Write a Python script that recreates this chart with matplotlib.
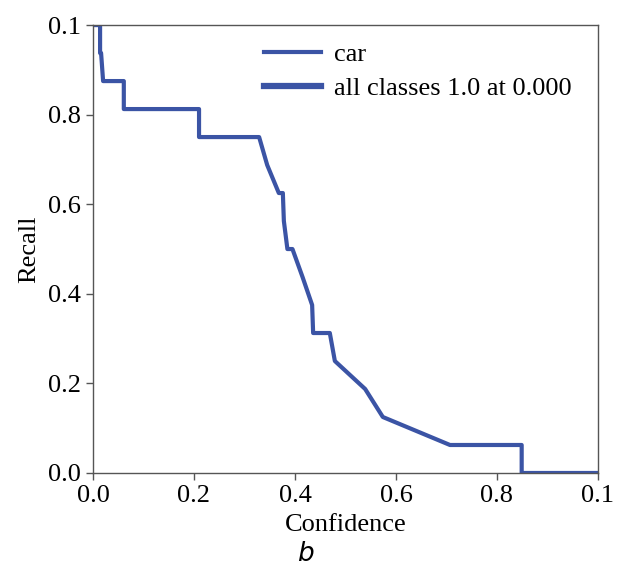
import matplotlib.pyplot as plt

# recall-confidence curve for "car"
conf = [0.0, 0.014, 0.014, 0.016, 0.020, 0.061, 0.061, 0.210, 0.210, 0.329,
        0.345, 0.368, 0.376, 0.378, 0.385, 0.395, 0.415, 0.434, 0.436, 0.469,
        0.479, 0.539, 0.574, 0.707, 0.849, 0.849, 1.0]
recall = [1.0, 1.0, 0.9375, 0.9375, 0.875, 0.875, 0.8125, 0.8125, 0.75, 0.75,
          0.6875, 0.625, 0.625, 0.5625, 0.5, 0.5, 0.4375, 0.375, 0.3125, 0.3125,
          0.25, 0.1875, 0.125, 0.0625, 0.0625, 0.0, 0.0]

ticks = [0.0, 0.2, 0.4, 0.6, 0.8, 1.0]
tick_labels = ['0.0', '0.2', '0.4', '0.6', '0.8', '0.1']

plt.rcParams['font.family'] = ['Liberation Serif', 'DejaVu Serif']
blue = '#3b54a5'
grey = '#555555'
fs = 19

fig = plt.figure(figsize=(6.18, 5.70), dpi=100)
ax = fig.add_axes([0.1505, 0.1702, 0.817, 0.7858])

ax.plot(conf, recall, color=blue, lw=3.0, label='car')
ax.plot([], [], color=blue, lw=4.5, label='all classes 1.0 at 0.000')

ax.set_xlim(0, 1)
ax.set_ylim(0, 1)
ax.set_xticks(ticks)
ax.set_xticklabels(tick_labels)
ax.set_yticks(ticks)
ax.set_yticklabels(tick_labels)
ax.tick_params(labelsize=fs, colors=grey, labelcolor='black', length=5, width=1)
for s in ax.spines.values():
    s.set_color(grey)
    s.set_linewidth(1)

ax.set_xlabel('Confidence', fontsize=fs, labelpad=5)
ax.set_ylabel('Recall', fontsize=fs, labelpad=6)

ax.legend(loc='upper left', bbox_to_anchor=(0.292, 1.013), frameon=False,
          fontsize=fs, handlelength=2.16, handletextpad=0.5, labelspacing=0.38)

fig.text(0.495, 0.005, 'b', fontsize=fs, style='italic', family='DejaVu Sans',
         ha='center', va='bottom')

plt.savefig('out.png', dpi=100)
